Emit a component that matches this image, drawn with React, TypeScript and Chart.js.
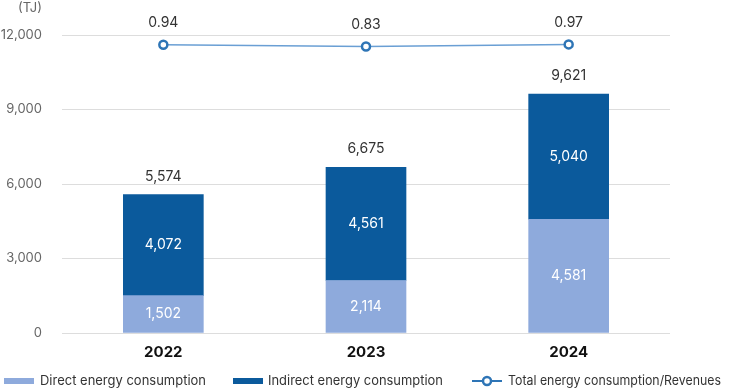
import React, { useEffect, useRef } from "react";
import { Chart, registerables } from "chart.js";

Chart.register(...registerables);

const categories = ["2022", "2023", "2024"];
const directValues = [1502, 2114, 4581];
const indirectValues = [4072, 4561, 5040];
const totalValues = [5574, 6675, 9621];
const ratioValues = [0.94, 0.83, 0.97];
const yTicks = [0, 3000, 6000, 9000, 12000];

const FONT = "Inter, 'Noto Sans', sans-serif";
const DIRECT_COLOR = "#8eaadc";
const INDIRECT_COLOR = "#0b5a9c";
const LINE_COLOR = "#6a9fd4";
const POINT_COLOR = "#2e75b6";

const fmt = (v: number) => v.toLocaleString("en-US");

const labelPlugin = {
  id: "customLabels",
  afterDatasetsDraw(chart: any) {
    const ctx = chart.ctx;
    ctx.save();
    ctx.textAlign = "center";
    ctx.textBaseline = "middle";
    [0, 1].forEach((di) => {
      const meta = chart.getDatasetMeta(di);
      const vals = di === 0 ? directValues : indirectValues;
      meta.data.forEach((bar: any, i: number) => {
        const cy = (bar.y + bar.base) / 2;
        ctx.fillStyle = "#ffffff";
        ctx.font = `14px ${FONT}`;
        ctx.fillText(fmt(vals[i]), bar.x, cy);
      });
    });
    const topMeta = chart.getDatasetMeta(1);
    topMeta.data.forEach((bar: any, i: number) => {
      ctx.fillStyle = "#333333";
      ctx.font = `14px ${FONT}`;
      ctx.fillText(fmt(totalValues[i]), bar.x, bar.y - 18);
    });
    const lineMeta = chart.getDatasetMeta(2);
    lineMeta.data.forEach((pt: any, i: number) => {
      ctx.fillStyle = "#333333";
      ctx.font = `14px ${FONT}`;
      ctx.fillText(ratioValues[i].toFixed(2), pt.x, pt.y - 22);
    });
    ctx.restore();
  },
  afterDraw(chart: any) {
    const ctx = chart.ctx;
    ctx.save();
    ctx.fillStyle = "#666666";
    ctx.font = `13px ${FONT}`;
    ctx.textAlign = "right";
    ctx.textBaseline = "middle";
    ctx.fillText("(TJ)", 42, 8);
    const ly = 381;
    ctx.textAlign = "left";
    ctx.font = `13px ${FONT}`;
    ctx.fillStyle = DIRECT_COLOR;
    ctx.fillRect(4, ly - 3, 30, 6);
    ctx.fillStyle = "#333333";
    ctx.fillText("Direct energy consumption", 40, ly, 166);
    ctx.fillStyle = INDIRECT_COLOR;
    ctx.fillRect(233, ly - 3, 30, 6);
    ctx.fillStyle = "#333333";
    ctx.fillText("Indirect energy consumption", 268, ly, 175);
    ctx.strokeStyle = POINT_COLOR;
    ctx.lineWidth = 2;
    ctx.beginPath();
    ctx.moveTo(472, ly);
    ctx.lineTo(502, ly);
    ctx.stroke();
    ctx.beginPath();
    ctx.arc(487, ly, 4, 0, Math.PI * 2);
    ctx.fillStyle = "#ffffff";
    ctx.fill();
    ctx.lineWidth = 2.5;
    ctx.stroke();
    ctx.fillStyle = "#333333";
    ctx.fillText("Total energy consumption/Revenues", 508, ly, 213);
    ctx.restore();
  },
};

export default function App() {
  const ref = useRef<HTMLCanvasElement | null>(null);

  useEffect(() => {
    document.body.style.margin = "0";
    if (!ref.current) return;
    const chart = new Chart(ref.current, {
      type: "bar",
      data: {
        labels: categories,
        datasets: [
          {
            type: "bar",
            label: "Direct energy consumption",
            data: directValues,
            backgroundColor: DIRECT_COLOR,
            stack: "s",
            yAxisID: "y",
            order: 2,
          },
          {
            type: "bar",
            label: "Indirect energy consumption",
            data: indirectValues,
            backgroundColor: INDIRECT_COLOR,
            stack: "s",
            yAxisID: "y",
            order: 2,
          },
          {
            type: "line",
            label: "Total energy consumption/Revenues",
            data: ratioValues,
            borderColor: LINE_COLOR,
            borderWidth: 1.5,
            pointRadius: 4,
            pointBorderWidth: 2.5,
            pointBorderColor: POINT_COLOR,
            pointBackgroundColor: "#ffffff",
            yAxisID: "y1",
            order: 1,
          } as any,
        ],
      },
      options: {
        responsive: false,
        animation: false,
        layout: { padding: { left: 0, right: 60, top: 35, bottom: 0 } },
        plugins: {
          legend: { display: false },
          tooltip: { enabled: false },
        },
        datasets: {
          bar: { barThickness: 80 },
        } as any,
        scales: {
          x: {
            stacked: true,
            grid: { display: false, drawTicks: false },
            border: { display: false },
            ticks: {
              color: "#111111",
              font: { family: FONT, size: 15, weight: "bold" },
              padding: 10,
            },
            afterFit: (s: any) => {
              s.height = 57;
            },
          },
          y: {
            stacked: true,
            min: 0,
            max: 12000,
            afterBuildTicks: (s: any) => {
              s.ticks = yTicks.map((v) => ({ value: v }));
            },
            grid: { color: "#dddddd", drawTicks: false, lineWidth: 1 },
            border: { display: false },
            ticks: {
              color: "#666666",
              font: { family: FONT, size: 13 },
              padding: 20,
              callback: (v: any) => fmt(Number(v)),
            },
            afterFit: (s: any) => {
              s.width = 62;
            },
          },
          y1: {
            display: false,
            min: -18.4,
            max: 1.6,
          },
        },
      },
      plugins: [labelPlugin],
    });
    return () => chart.destroy();
  }, []);

  return (
    <div style={{ position: "absolute", left: 0, top: 0, width: 730, height: 390 }}>
      <canvas ref={ref} width={730} height={390} style={{ width: 730, height: 390 }} />
    </div>
  );
}
